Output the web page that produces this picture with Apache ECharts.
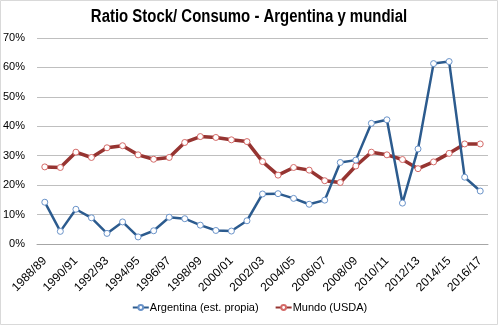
<!DOCTYPE html>
<html><head><meta charset="utf-8">
<script src="https://cdn.jsdelivr.net/npm/echarts@6/dist/echarts.min.js"></script>
<style>html,body{margin:0;padding:0;background:#fff}#c{width:499px;height:326px}</style>
</head><body><div id="c"></div>
<script>
const categories = ["1988/89","1989/90","1990/91","1991/92","1992/93","1993/94","1994/95","1995/96","1996/97","1997/98","1998/99","1999/00","2000/01","2001/02","2002/03","2003/04","2004/05","2005/06","2006/07","2007/08","2008/09","2009/10","2010/11","2011/12","2012/13","2013/14","2014/15","2015/16","2016/17"];
const argentina = [14.2,4.3,11.8,8.9,3.6,7.5,2.4,4.5,9.1,8.6,6.4,4.6,4.4,7.9,17.0,17.1,15.5,13.5,14.9,27.7,28.5,41.0,42.2,13.9,32.3,61.3,62.0,22.7,18.0];
const mundo = [26.2,26.0,31.2,29.4,32.7,33.4,30.3,28.8,29.4,34.5,36.5,36.2,35.4,34.8,28.0,23.4,26.0,25.1,21.5,20.9,26.5,31.2,30.3,28.7,25.6,27.9,30.8,34.0,34.0];
const seriesNames = ["Argentina (est. propia)","Mundo (USDA)"];
const titleText = 'Ratio Stock/ Consumo - Argentina y mundial';

const chart = echarts.init(document.getElementById('c'), null, {renderer:'canvas'});
const font = "'Liberation Sans', Arial, sans-serif";
chart.setOption({
  animation:false,
  backgroundColor:'#fff',
  graphic:[
    {type:'rect',shape:{x:0.5,y:0.5,width:497,height:324},style:{fill:'none',stroke:'#d9d9d9',lineWidth:1},silent:true},
    {type:'text',x:249,y:8,scaleX:0.83,originX:0,originY:0,
      style:{text:titleText,textAlign:'center',textVerticalAlign:'top',
        font:"bold 18px 'Liberation Sans', Arial, sans-serif",fill:'#000'}}
  ],
  grid:{left:37,right:11,top:38,bottom:82},
  legend:{bottom:8,left:'center',itemWidth:16,itemHeight:6,itemGap:16,
    textStyle:{fontFamily:font,fontSize:11,color:'#000',padding:[0,0,0,-4]},data:seriesNames},
  xAxis:{type:'category',data:categories,boundaryGap:true,
    axisLine:{lineStyle:{color:'#a6a6a6'}},axisTick:{show:false},
    axisLabel:{interval:1,rotate:45,fontFamily:font,fontSize:12,color:'#000',margin:15}},
  yAxis:{type:'value',min:0,max:70,interval:10,
    axisLine:{show:false},axisTick:{show:false},
    splitLine:{lineStyle:{color:'#bfbfbf',width:1}},
    axisLabel:{formatter:'{value}%',fontFamily:font,fontSize:11,color:'#000',margin:12}},
  series:[
    {name:seriesNames[0],type:'line',data:argentina,symbol:'circle',symbolSize:6,
      lineStyle:{color:'#2c5b8e',width:2.5},
      itemStyle:{color:'#fff',borderColor:'#6a93c9',borderWidth:1},z:3},
    {name:seriesNames[1],type:'line',data:mundo,symbol:'circle',symbolSize:6,
      lineStyle:{color:'#963431',width:3.5},
      itemStyle:{color:'#fff',borderColor:'#d46a68',borderWidth:1},z:2}
  ]
});
</script></body></html>
